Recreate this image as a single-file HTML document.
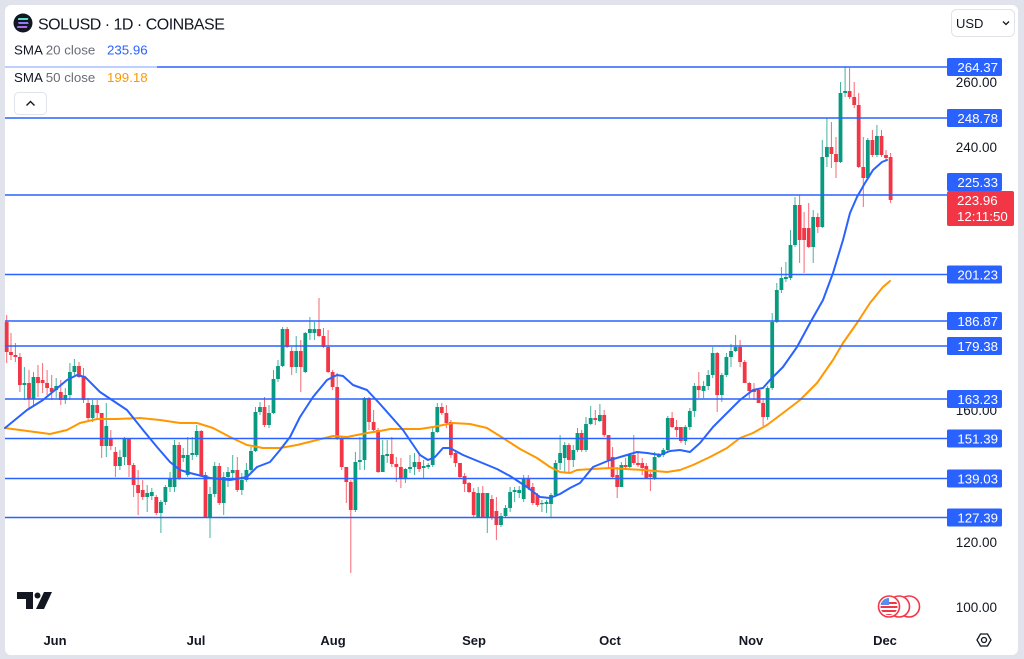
<!DOCTYPE html>
<html><head><meta charset="utf-8">
<style>
html,body{margin:0;padding:0;background:#e0e3eb;width:1024px;height:659px;overflow:hidden}
svg{display:block}
text{font-family:"Liberation Sans",sans-serif}
</style></head>
<body>
<svg id="s" width="1024" height="659" viewBox="0 0 1024 659" xmlns="http://www.w3.org/2000/svg">
<rect x="5" y="5" width="1013" height="650" rx="6" fill="#ffffff"/>
<g id="c"></g>
<polyline fill="none" stroke="#ff9800" stroke-width="2" stroke-linejoin="round" stroke-linecap="round" points="5,428 20,430 50,434 67,430 80,423 97,419 117,419 140,418 160,420 180,423 197,423 213,428 230,437 247,445 263,448 280,448 297,445 313,441 333,436 347,437 367,433 380,431 390,429 420,429 433,427 453,423 470,424 487,428 503,438 520,449 537,458 550,467 560,472 570,473 577,470 593,469 610,468 643,470 667,472 680,470 693,465 710,457 727,448 740,438 753,433 767,425 783,413 800,400 817,383 833,360 843,343 857,323 870,303 883,287 890,281"/>
<polyline fill="none" stroke="#2962ff" stroke-width="2" stroke-linejoin="round" stroke-linecap="round" points="5,428 27,410 43,400 67,380 77,375 85,377 100,392 127,410 143,430 157,447 170,462 180,470 190,473 210,478 230,480 247,477 257,467 270,462 280,450 290,437 300,417 313,397 327,380 337,375 343,376 353,385 367,390 380,404 403,430 420,455 428,460 435,457 443,448 450,448 463,455 480,462 497,469 510,476 527,487 540,497 550,498 560,494 570,488 580,483 593,467 610,460 627,455 637,452 647,453 660,455 670,451 680,450 690,452 700,443 713,427 727,413 740,400 753,390 763,388 770,380 783,367 797,347 810,323 823,300 833,273 843,240 850,213 857,197 865,183 873,170 882,162 887,160"/>
<g stroke="#2962ff" stroke-width="1.6">
<line x1="5" x2="947" y1="67" y2="67"/>
<line x1="5" x2="947" y1="118" y2="118"/>
<line x1="5" x2="947" y1="195" y2="195"/>
<line x1="5" x2="947" y1="274.5" y2="274.5"/>
<line x1="5" x2="947" y1="321" y2="321"/>
<line x1="5" x2="947" y1="346" y2="346"/>
<line x1="5" x2="947" y1="399" y2="399"/>
<line x1="5" x2="947" y1="438.5" y2="438.5"/>
<line x1="5" x2="947" y1="478.5" y2="478.5"/>
<line x1="5" x2="947" y1="517.5" y2="517.5"/>
</g>
<rect x="5" y="60" width="152" height="28" fill="#ffffff" opacity="0.6"/>
<!-- legend -->
<circle cx="23" cy="23" r="9.5" fill="#131722"/>
<rect x="18" y="18" width="10" height="2" fill="#5be0c8" transform="skewX(-20) translate(7,0)"/>
<rect x="18" y="22" width="10" height="2" fill="#8f7cf0" transform="skewX(20) translate(-8,0)"/>
<rect x="18" y="26" width="10" height="2" fill="#b06cf0" transform="skewX(-20) translate(9,0)"/>
<text x="38" y="29.5" font-size="16" fill="#131722" letter-spacing="-0.5">SOLUSD · 1D · COINBASE</text>
<text x="14" y="54.5" font-size="13.3" fill="#6a6d78"><tspan fill="#131722">SMA</tspan> 20 close <tspan x="107" fill="#2962ff">235.96</tspan></text>
<text x="14" y="82" font-size="13.3" fill="#6a6d78"><tspan fill="#131722">SMA</tspan> 50 close <tspan x="107" fill="#ff9800">199.18</tspan></text>
<rect x="14.5" y="92.5" width="32" height="22" rx="4" fill="#fff" stroke="#e0e3eb"/>
<path d="M26.5 105.5 L30.5 101.5 L34.5 105.5" fill="none" stroke="#131722" stroke-width="1.4"/>
<!-- USD -->
<rect x="951.5" y="9.5" width="63" height="27" rx="5" fill="#fff" stroke="#e0e3eb"/>
<text x="956" y="28" font-size="13" fill="#131722">USD</text>
<path d="M1003 21.5 L1006 24.5 L1009 21.5" fill="none" stroke="#131722" stroke-width="1.3"/>
<!-- price ticks -->
<g font-size="13.5" fill="#131722" text-anchor="end">
<text x="997" y="87">260.00</text>
<text x="997" y="152">240.00</text>
<text x="997" y="415">160.00</text>
<text x="997" y="547">120.00</text>
<text x="997" y="612">100.00</text>
</g>
<!-- labels -->
<g fill="#2962ff">
<rect x="947" y="58" width="55" height="18" rx="1.5"/>
<rect x="947" y="109" width="55" height="18" rx="1.5"/>
<rect x="947" y="173" width="55" height="18" rx="1.5"/>
<rect x="947" y="265.5" width="55" height="18" rx="1.5"/>
<rect x="947" y="312" width="55" height="18" rx="1.5"/>
<rect x="947" y="337" width="55" height="18" rx="1.5"/>
<rect x="947" y="390" width="55" height="18" rx="1.5"/>
<rect x="947" y="429.5" width="55" height="18" rx="1.5"/>
<rect x="947" y="469.5" width="55" height="18" rx="1.5"/>
<rect x="947" y="508.5" width="55" height="18" rx="1.5"/>
</g>
<rect x="947" y="191" width="67" height="35" rx="2" fill="#f23645"/>
<g font-size="13.3" fill="#ffffff" text-anchor="end">
<text x="998" y="72">264.37</text>
<text x="998" y="123">248.78</text>
<text x="998" y="187">225.33</text>
<text x="998" y="279.5">201.23</text>
<text x="998" y="326">186.87</text>
<text x="998" y="351">179.38</text>
<text x="998" y="404">163.23</text>
<text x="998" y="443.5">151.39</text>
<text x="998" y="483.5">139.03</text>
<text x="998" y="522.5">127.39</text>
</g>
<text x="957" y="205" font-size="13.3" fill="#fff">223.96</text>
<text x="957" y="221" font-size="13.3" fill="#fff">12:11:50</text>
<!-- months -->
<g font-size="13" font-weight="bold" fill="#131722" text-anchor="middle">
<text x="55" y="645">Jun</text>
<text x="196" y="645">Jul</text>
<text x="333" y="645">Aug</text>
<text x="474" y="645">Sep</text>
<text x="610" y="645">Oct</text>
<text x="751" y="645">Nov</text>
<text x="885" y="645">Dec</text>
</g>
<!-- TV logo -->
<g fill="#131722">
<path d="M17 592 H33 V609 H26 V599 H17 Z"/>
<circle cx="37.5" cy="595.5" r="3"/>
<path d="M44 592 H52 L44 609 H36 Z"/>
</g>
<!-- settings -->
<path d="M977 640 L980.5 634 H987.5 L991 640 L987.5 646 H980.5 Z" fill="none" stroke="#131722" stroke-width="1.3"/>
<circle cx="984" cy="640" r="2.5" fill="none" stroke="#131722" stroke-width="1.3"/>
<!-- flags -->
<g>
<circle cx="909" cy="606.5" r="10.5" fill="#fff" stroke="#f23645" stroke-width="1.6"/>
<circle cx="899" cy="606.5" r="10.5" fill="#fff" stroke="#f23645" stroke-width="1.6"/>
<circle cx="889" cy="606.5" r="10.5" fill="#fff" stroke="#f23645" stroke-width="1.6"/>
<clipPath id="fc"><circle cx="889" cy="606.5" r="8.5"/></clipPath>
<g clip-path="url(#fc)">
<rect x="880" y="598" width="18" height="18" fill="#fff"/>
<rect x="880" y="602" width="18" height="2" fill="#f23645"/>
<rect x="880" y="606" width="18" height="2" fill="#f23645"/>
<rect x="880" y="610" width="18" height="2" fill="#f23645"/>
<rect x="880" y="614" width="18" height="2" fill="#f23645"/>
<rect x="880" y="598" width="9" height="7" fill="#5b8def"/>
</g>
</g>
</svg>
<script>
var D=[
[6.7,322,352,315,363,0],[11,352,355,333,360,0],[15.4,355,357,343,362,0],[19.9,357,385,353,392,0],[24.4,383,385,367,400,1],[29,383,399,370,410,0],[33.5,377,399,372,407,1],[38,377,383,365,397,0],[42.6,380,383,363,393,0],[47.1,383,388,370,395,0],[51.7,388,392,375,400,0],[56.2,386,390,378,398,1],[60.8,392,400,380,405,0],[65.3,395,400,388,404,1],[69.9,372,395,363,400,1],[74.4,366,372,359,375,1],[79,366,377,362,378,0],[83.5,377,400,368,403,0],[88.1,403,418,398,420,0],[92.6,405,418,400,422,1],[97.2,405,413,400,420,0],[101.7,413,446,413,458,0],[106.3,426,446,403,457,1],[110.8,438,446,430,450,0],[115.4,452,466,447,477,0],[119.9,457,466,450,470,1],[124.5,438,457,437,465,1],[129,438,465,438,477,0],[133.6,465,485,463,497,0],[138.1,485,493,470,515,0],[142.7,490,497,480,500,0],[147.2,493,497,485,512,1],[151.8,492,496,488,500,1],[156.3,497,513,495,515,0],[160.9,502,513,500,533,1],[165.4,487,502,485,505,1],[170,478,487,472,492,1],[174.5,445,487,440,492,1],[179.1,445,478,442,480,0],
[183.2,455,458,448,462,1],[187.7,455,475,437,477,1],[192.3,453,455,437,460,1],[196.7,431,455,425,457,1],[201.3,431,475,430,477,0],[205.5,475,517,472,517,0],[210,494,517,487,538,1],[214.7,466,494,462,497,1],[219.3,466,503,463,505,0],[223.7,477,503,472,515,1],[228,472,477,467,487,1],[232.7,470,473,455,480,1],[237.3,470,490,457,492,0],[241.8,480,490,473,495,1],[246.4,470,480,463,482,1],[251,451,470,447,472,1],[255.5,412,451,407,452,1],[260,407,412,402,415,1],[264.5,407,425,397,427,0],[269,413,425,405,428,1],[273.5,379,413,370,414,1],[278,366,379,360,382,1],[282.6,329,366,327,367,1],[287.1,329,347,327,348,0],[291.7,351,367,347,375,0],[296.2,351,367,336,373,1],[300.8,351,367,340,392,0],[305.3,333,372,332,373,1],[309.9,329,333,317,340,1],[314.4,329,333,322,340,1],[319,329,336,298,337,0],[323.5,336,347,328,348,0],[328.1,347,372,330,373,0],[332.6,372,387,370,390,0],[337.2,387,438,373,440,0],[341.7,438,467,437,470,0],[346.3,467,482,467,503,0],[350.8,482,510,480,573,0],[355.4,462,510,452,512,1],[359.9,460,462,437,470,1],[364.5,398,460,397,470,1],[369,398,422,397,430,0],[373.6,422,430,410,433,0],[378.1,430,472,428,473,0],
[382.7,455,472,440,472,1],[387.2,454,456,440,463,1],[391.8,454,464,437,467,0],[396.3,464,467,457,482,0],[400.9,467,479,458,488,0],[405.4,469,479,468,483,1],[410,467,469,455,473,1],[414.5,462,467,453,475,1],[419.1,462,469,453,472,0],[423.6,466,468,460,478,1],[428.2,465,467,463,469,1],[432.7,432,465,428,467,1],[437.3,407,432,403,433,1],[441.8,407,413,403,415,0],[446.4,413,423,405,428,0],[450.9,422,455,420,458,0],[455.5,453,463,450,467,0],[460,463,477,463,478,0],[464.6,476,484,473,492,0],[469.1,483,492,482,493,0],[473.7,492,515,488,517,0],[478.2,493,517,487,518,1],[482.8,493,517,486,517,0],[487.3,493,517,493,533,1],[491.9,499,517,495,520,0],[496.4,511,525,497,540,0],[501,516,525,513,527,1],[505.5,508,516,505,518,1],[510.1,492,508,487,512,1],[514.6,490,492,487,502,1],[519.2,490,493,486,498,1],[523.7,478,499,475,502,1],[528.3,478,488,475,490,0],[532.8,487,503,483,505,0],[537.4,495,505,493,507,0],[541.9,503,504,500,512,1],[546.5,502,504,500,513,1],[551,495,504,493,517,1],[555.6,463,495,460,497,1],[560.1,453,463,435,470,1],
[564.7,445,458,442,472,1],[568.9,445,460,443,472,0],[573.3,450,460,445,467,1],[577.5,433,450,428,452,1],[581.7,433,450,430,452,0],[586,424,450,417,452,1],[590.7,418,424,406,425,1],[595.3,418,420,410,425,0],[599.9,415,421,404,422,1],[604.2,415,435,410,437,0],[608.5,435,460,435,468,0],[612.6,457,477,447,478,0],[617.2,475,487,467,498,0],[621.4,465,487,462,487,1],[625.6,465,467,458,470,0],[629.8,455,467,453,468,1],[633.8,455,463,435,465,0],[638,463,465,452,467,0],[642.2,463,468,458,475,0],[646.3,466,478,463,478,0],[650.4,474,477,472,491,0],[654.6,457,478,452,480,1],[658.9,455,457,453,458,1],[663.3,450,455,448,457,1],[667.8,418,450,416,452,1],[672.1,418,427,412,428,0],[676.6,427,430,420,437,0],[680.9,427,441,427,443,0],[685.3,427,441,425,445,1],[689.8,411,427,408,430,1],[694.4,386,411,383,417,1],[698.8,386,390,372,398,0],[703.6,386,391,381,398,1],[708.2,375,386,370,390,1],[712.7,353,375,347,378,1],[717.2,353,395,352,412,0],[721.8,375,395,373,402,1],[726.4,357,375,353,377,1],[731,351,357,344,367,1],[735.6,347,351,335,352,1],[740.1,347,362,340,367,0],[744.7,362,383,360,383,0],[749.3,383,391,382,398,0],[754,390,392,383,400,0],[758.6,390,403,388,403,0],[763.1,403,417,398,426,0],[767.6,388,417,386,420,1],[772.2,322,388,313,390,1],
[776.8,290,322,283,323,1],[781.4,278,290,267,293,1],[785.9,277,279,262,282,1],[790.5,245,278,230,280,1],[795,205,245,197,247,1],[799.6,205,240,195,263,0],[804.1,228,240,212,273,0],[808.7,228,247,203,248,0],[813.2,217,247,210,263,1],[817.8,217,227,213,233,0],[822.3,157,227,140,228,1],[826.9,147,157,118,167,1],[831.4,147,154,122,168,0],[836,154,162,137,178,0],[840.5,93,162,82,163,1],[845.1,91,93,67,97,1],[849.6,91,97,68,99,0],[854.2,97,105,82,108,0],[858.7,105,167,93,168,0],[863.3,167,178,137,207,0],[867.8,140,178,138,180,1],[872.4,140,155,130,157,0],[876.9,136,155,125,157,1],[881.5,136,155,130,157,0],[886,155,158,150,160,0],[890.6,157,200,153,203,0]
];
var NS="http://www.w3.org/2000/svg",g=document.getElementById("c");
for(var i=0;i<D.length;i++){var d=D[i],col=d[5]?"#089981":"#f23645";
var l=document.createElementNS(NS,"line");l.setAttribute("x1",d[0]);l.setAttribute("x2",d[0]);l.setAttribute("y1",d[3]);l.setAttribute("y2",d[4]);l.setAttribute("stroke",col);l.setAttribute("stroke-width","1");l.setAttribute("opacity","0.75");g.appendChild(l);
var r=document.createElementNS(NS,"rect");r.setAttribute("x",d[0]-1.9);r.setAttribute("y",d[1]);r.setAttribute("width","3.8");r.setAttribute("height",Math.max(d[2]-d[1],1.2));r.setAttribute("fill",col);g.appendChild(r);}
</script>
</body></html>
